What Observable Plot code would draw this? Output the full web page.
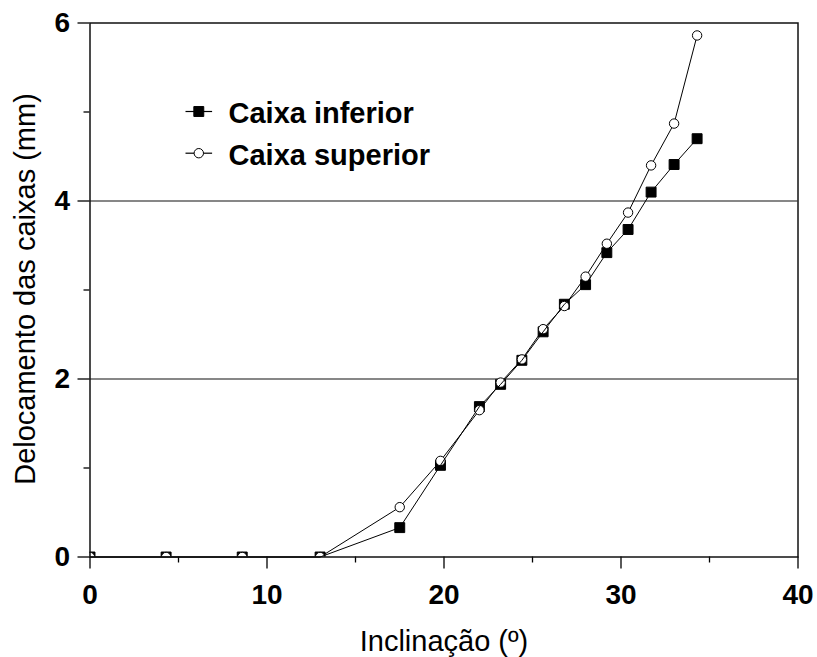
<!DOCTYPE html>
<html><head><meta charset="utf-8">
<script src="https://cdn.jsdelivr.net/npm/d3@7"></script>
<script src="https://cdn.jsdelivr.net/npm/@observablehq/plot@0.6"></script>
<style>html,body{margin:0;padding:0;background:#fff;}</style>
</head><body><div id="chart"></div>
<script>
const inclinacao    = [0, 4.3, 8.6, 13.0, 17.5, 19.8, 22.0, 23.2, 24.4, 25.6, 26.8, 28.0, 29.2, 30.4, 31.7, 33.0, 34.3];
const caixaInferior = [0, 0, 0, 0, 0.33, 1.03, 1.69, 1.94, 2.21, 2.53, 2.84, 3.06, 3.42, 3.68, 4.10, 4.41, 4.70];
const caixaSuperior = [0, 0, 0, 0, 0.56, 1.08, 1.65, 1.96, 2.22, 2.56, 2.82, 3.15, 3.52, 3.87, 4.40, 4.87, 5.86];
const xTicks = [0, 10, 20, 30, 40];
const xMinorTicks = [5, 15, 25, 35];
const yTicks = [0, 2, 4, 6];
const yMinorTicks = [1, 3, 5];
const gridValues = [2, 4];
const seriesNames = ["Caixa inferior", "Caixa superior"];
const xTitle = "Inclinação (º)";
const yTitle = "Delocamento das caixas (mm)";

const inf = inclinacao.map((x, i) => ({x, y: caixaInferior[i]}));
const sup = inclinacao.map((x, i) => ({x, y: caixaSuperior[i]}));
const font = "'Liberation Sans', Arial, Helvetica, sans-serif";
const lineSymbol = {draw(ctx) { ctx.moveTo(-13.3, 0); ctx.lineTo(13.3, 0); }};

const legendMarks = seriesNames.flatMap((name, i) => {
  const dy = i === 0 ? 88.5 : 130.2;
  return [
    Plot.dot([name], {frameAnchor: "top-left", dx: 108.8, dy, symbol: lineSymbol, r: 5, fill: "none", stroke: "black", strokeWidth: 1.2}),
    Plot.dot([name], {frameAnchor: "top-left", dx: 108.8, dy,
      symbol: i === 0 ? "square" : "circle", r: i === 0 ? 5.6 : 4.7,
      fill: i === 0 ? "black" : "white", stroke: "black", strokeWidth: 1}),
    Plot.text([name], {frameAnchor: "top-left", dx: 138.5, dy: dy + 2.3, textAnchor: "start", lineAnchor: "middle",
      fontSize: 29, fontWeight: "bold", fill: "black"})
  ];
});

const chart = Plot.plot({
  width: 817, height: 657,
  marginLeft: 89.5, marginRight: 19.5, marginTop: 22.5, marginBottom: 100.5,
  style: {fontFamily: font, background: "white", color: "black"},
  x: {domain: [0, 40]},
  y: {domain: [0, 6]},
  marks: [
    Plot.ruleY(gridValues, {stroke: "#111", strokeWidth: 1.2}),
    Plot.axisX(xTicks, {tickSize: 12, tickPadding: 15, fontSize: 28, fontWeight: "bold", label: null, strokeWidth: 1.3, tickFormat: d => String(d)}),
    Plot.axisX(xMinorTicks, {tickSize: 6, label: null, strokeWidth: 1.3, tickFormat: () => ""}),
    Plot.axisY(yTicks, {tickSize: 12, tickPadding: 8, fontSize: 28, fontWeight: "bold", label: null, strokeWidth: 1.3, tickFormat: d => String(d)}),
    Plot.axisY(yMinorTicks, {tickSize: 6, label: null, strokeWidth: 1.3, tickFormat: () => ""}),
    Plot.line(sup, {x: "x", y: "y", stroke: "black", strokeWidth: 1}),
    Plot.dot(inf, {x: "x", y: "y", symbol: "square", r: 5.6, fill: "black", stroke: "black", strokeWidth: 1, clip: true}),
    Plot.dot(sup, {x: "x", y: "y", symbol: "circle", r: 4.7, fill: "white", stroke: "black", strokeWidth: 1, clip: true}),
    Plot.line(inf, {x: "x", y: "y", stroke: "black", strokeWidth: 1}),
    Plot.frame({stroke: "#111", strokeWidth: 1.5}),
    Plot.text([xTitle], {frameAnchor: "bottom", dy: 85, lineAnchor: "middle", fontSize: 29, fill: "black"}),
    Plot.text([yTitle], {frameAnchor: "left", dx: -64.5, dy: -1, rotate: -90, textAnchor: "middle", lineAnchor: "middle", fontSize: 29, fill: "black"}),
    ...legendMarks
  ]
});
document.getElementById("chart").appendChild(chart);
</script>
</body></html>
